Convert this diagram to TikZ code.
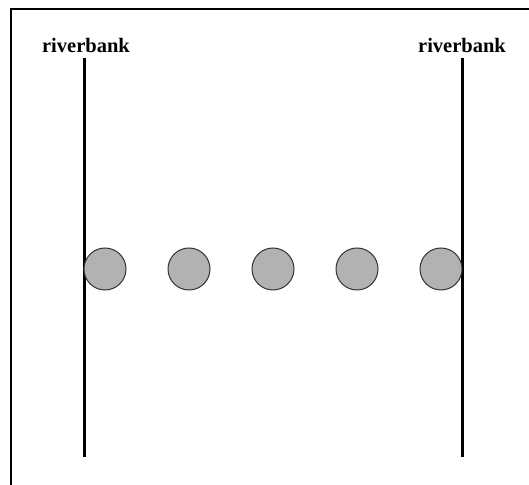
\documentclass[tikz,border=0pt]{standalone}
\usepackage{fontspec}
\setmainfont{Liberation Serif}
\usetikzlibrary{positioning}

\tikzset{
  bank/.style={line width=3pt, black},
  stone/.style={circle, draw=black!80, line width=1pt, fill=black!30, minimum size=42pt, inner sep=0pt},
  banklabel/.style={font=\fontsize{20.5}{24}\selectfont\bfseries, inner sep=0pt}
}

\begin{document}
\begin{tikzpicture}[x=1pt, y=1pt]

\useasboundingbox (0,0) rectangle (529,484);

% Frame
\draw[line width=2pt] (11,-5) -- (11,475) -- (535,475);

% Riverbanks
\coordinate (ltop) at (84,426);
\coordinate (lbot) at (84,27);
\coordinate (rtop) at (462,426);
\coordinate (rbot) at (462,27);
\draw[bank] (ltop) -- (lbot);
\draw[bank] (rtop) -- (rbot);

% Labels
\node[banklabel, above left=5pt and -46pt of ltop] (llabel) {riverbank};
\node[banklabel, above=5pt of rtop] (rlabel) {riverbank};

% Stepping stones
\foreach \i/\x in {1/105, 2/189, 3/273, 4/357, 5/441}
  \node[stone] (stone\i) at (\x,215) {};

\end{tikzpicture}
\end{document}
